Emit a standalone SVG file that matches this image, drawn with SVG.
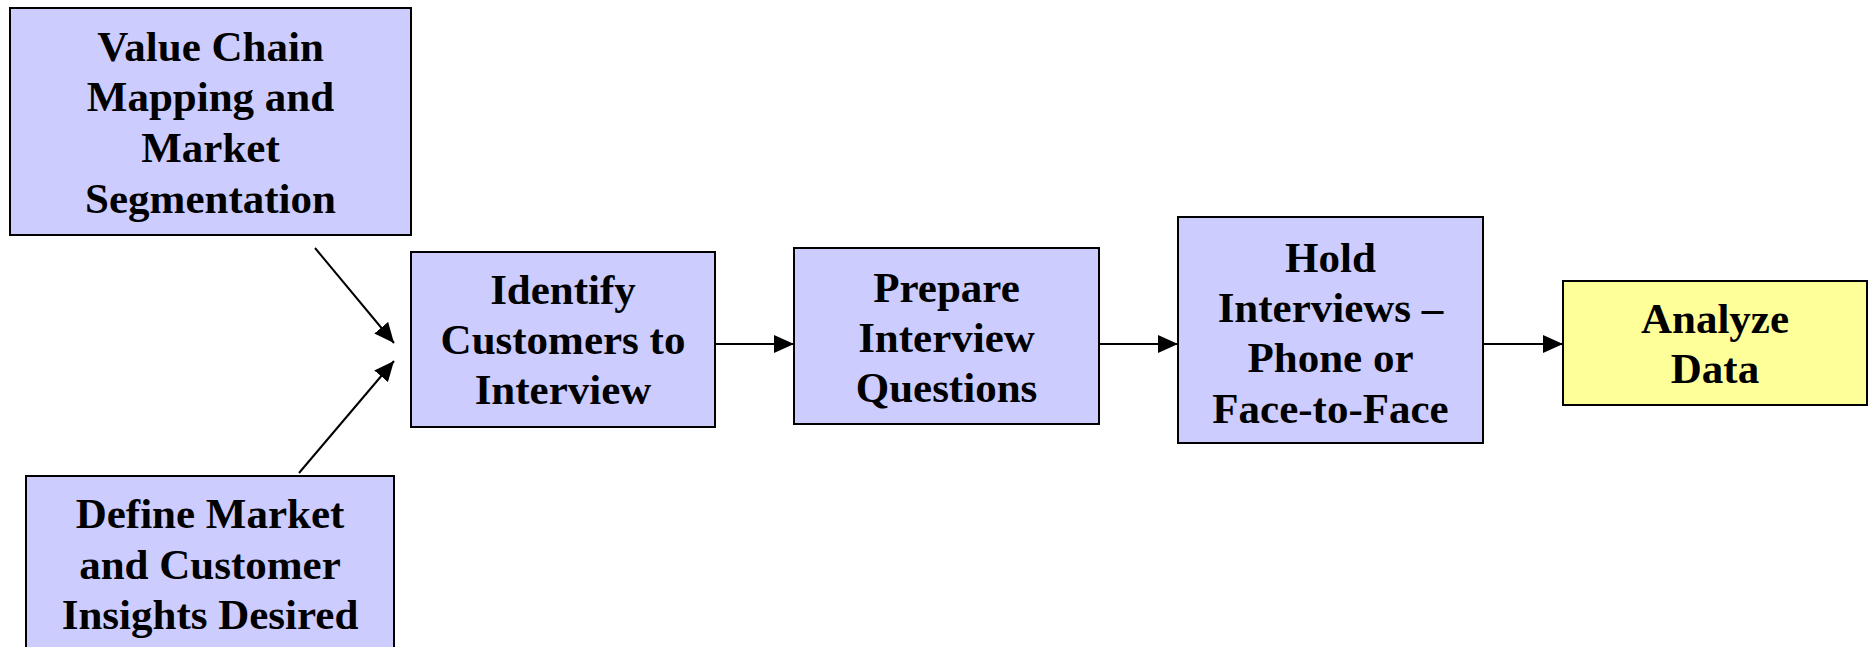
<svg xmlns="http://www.w3.org/2000/svg" width="1869" height="647" viewBox="0 0 1869 647">
<style>
.box{fill:#CCCCFF;stroke:#000;stroke-width:2}
.yel{fill:#FFFF99;stroke:#000;stroke-width:2}
.lbl{font-family:"Liberation Serif","Times New Roman",serif;font-weight:bold;font-size:43px;fill:#000;text-anchor:middle}
.conn{stroke:#000;stroke-width:2;fill:none;marker-end:url(#ah)}
</style>
<defs>
<marker id="ah" markerUnits="userSpaceOnUse" markerWidth="20" markerHeight="18" refX="20" refY="9" orient="auto">
<path d="M0,0 L20,9 L0,18 Z" fill="#000"/>
</marker>
</defs>
<rect width="1869" height="647" fill="#fff"/>
<g id="connectors">
<line class="conn" x1="315" y1="248" x2="394" y2="343"/>
<line class="conn" x1="299" y1="473" x2="394" y2="361"/>
<line class="conn" x1="715" y1="344" x2="794" y2="344"/>
<line class="conn" x1="1099" y1="344" x2="1178" y2="344"/>
<line class="conn" x1="1483" y1="344" x2="1563" y2="344"/>
</g>
<g id="value-chain">
<rect class="box" x="10" y="8" width="401" height="227"/>
<text class="lbl" x="210.5" y="61">Value Chain</text>
<text class="lbl" x="210.5" y="111">Mapping and</text>
<text class="lbl" x="210.5" y="162">Market</text>
<text class="lbl" x="210.5" y="213">Segmentation</text>
</g>
<g id="define-market">
<rect class="box" x="26" y="476" width="368" height="185"/>
<text class="lbl" x="210" y="528">Define Market</text>
<text class="lbl" x="210" y="579">and Customer</text>
<text class="lbl" x="210" y="629">Insights Desired</text>
</g>
<g id="identify">
<rect class="box" x="411" y="252" width="304" height="175"/>
<text class="lbl" x="563" y="304">Identify</text>
<text class="lbl" x="563" y="354">Customers to</text>
<text class="lbl" x="563" y="404">Interview</text>
</g>
<g id="prepare">
<rect class="box" x="794" y="248" width="305" height="176"/>
<text class="lbl" x="946.5" y="302">Prepare</text>
<text class="lbl" x="946.5" y="352">Interview</text>
<text class="lbl" x="946.5" y="402">Questions</text>
</g>
<g id="hold">
<rect class="box" x="1178" y="217" width="305" height="226"/>
<text class="lbl" x="1330.5" y="272">Hold</text>
<text class="lbl" x="1330.5" y="322">Interviews –</text>
<text class="lbl" x="1330.5" y="372">Phone or</text>
<text class="lbl" x="1330.5" y="423">Face-to-Face</text>
</g>
<g id="analyze">
<rect class="yel" x="1563" y="281" width="304" height="124"/>
<text class="lbl" x="1715" y="333">Analyze</text>
<text class="lbl" x="1715" y="383">Data</text>
</g>
</svg>
